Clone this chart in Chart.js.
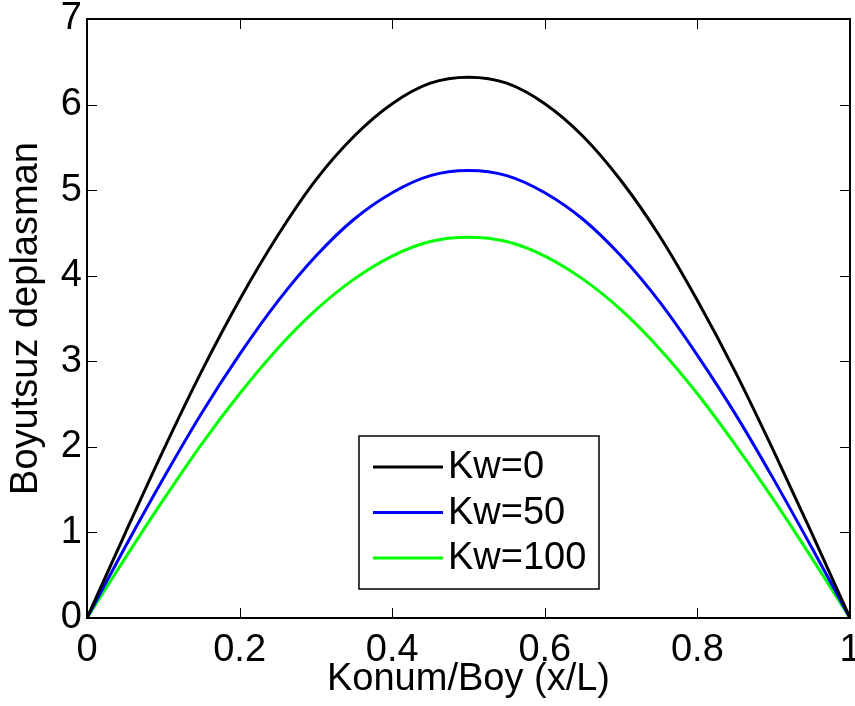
<!DOCTYPE html>
<html>
<head>
<meta charset="utf-8">
<script src="https://cdn.jsdelivr.net/npm/chart.js@4.4.1/dist/chart.umd.min.js"></script>
<style>
  body { margin: 0; background: #fff; }
  canvas { display: block; }
</style>
</head>
<body>
<canvas id="plot" width="855" height="706"></canvas>
<script>
const positions = [0, 0.05, 0.1, 0.15, 0.2, 0.25, 0.3, 0.35, 0.4, 0.45, 0.5,
                   0.55, 0.6, 0.65, 0.7, 0.75, 0.8, 0.85, 0.9, 0.95, 1];
const kw0   = [0, 0.99, 1.96, 2.88, 3.72, 4.47, 5.12, 5.63, 6.01, 6.25, 6.32,
               6.25, 6.01, 5.63, 5.11, 4.47, 3.71, 2.87, 1.95, 0.99, 0];
const kw50  = [0, 0.83, 1.63, 2.39, 3.08, 3.70, 4.23, 4.66, 4.97, 5.17, 5.23,
               5.17, 4.97, 4.66, 4.23, 3.70, 3.07, 2.38, 1.62, 0.82, 0];
const kw100 = [0, 0.70, 1.38, 2.03, 2.62, 3.15, 3.60, 3.96, 4.23, 4.40, 4.45,
               4.40, 4.23, 3.96, 3.60, 3.15, 2.62, 2.02, 1.38, 0.70, 0];
const seriesNames = ['Kw=0', 'Kw=50', 'Kw=100'];
const seriesColors = ['#000000', '#0000ff', '#00ff00'];
const xTicks = [0, 0.2, 0.4, 0.6, 0.8, 1];
const yTicks = [0, 1, 2, 3, 4, 5, 6, 7];

const FONT = "'Liberation Sans', Arial, sans-serif";
const FSIZE = 38;

function points(vals) {
    return positions.map((p, i) => ({ x: p, y: vals[i] }));
}

// box around the axes and inward tick marks (matlab style)
const axesBox = {
    id: 'axesBox',
    afterDatasetsDraw(chart) {
        const { ctx, chartArea: a, scales } = chart;
        const len = 10;
        ctx.save();
        ctx.strokeStyle = '#000';
        ctx.lineWidth = 1;
        ctx.beginPath();
        for (const t of xTicks) {
            const px = Math.round(scales.x.getPixelForValue(t)) + 0.5;
            ctx.moveTo(px, a.bottom); ctx.lineTo(px, a.bottom - len);
            ctx.moveTo(px, a.top); ctx.lineTo(px, a.top + len);
        }
        for (const t of yTicks) {
            const py = Math.round(scales.y.getPixelForValue(t)) + 0.5;
            ctx.moveTo(a.left, py); ctx.lineTo(a.left + len, py);
            ctx.moveTo(a.right, py); ctx.lineTo(a.right - len, py);
        }
        ctx.stroke();
        ctx.lineWidth = 2;
        ctx.strokeRect(a.left, a.top, a.right - a.left, a.bottom - a.top);
        ctx.restore();
    }
};

// legend box inside the plot
const boxLegend = {
    id: 'boxLegend',
    afterDraw(chart) {
        const ctx = chart.ctx;
        const left = 359, top = 436, w = 240, h = 153;
        ctx.save();
        ctx.fillStyle = '#fff';
        ctx.fillRect(left, top, w, h);
        ctx.strokeStyle = '#000';
        ctx.lineWidth = 1.5;
        ctx.strokeRect(left, top, w, h);
        ctx.font = FSIZE + 'px ' + FONT;
        ctx.textBaseline = 'middle';
        chart.data.datasets.forEach((ds, i) => {
            const cy = 467 + i * 45.5;
            ctx.strokeStyle = ds.borderColor;
            ctx.lineWidth = 3;
            ctx.beginPath();
            ctx.moveTo(373, cy); ctx.lineTo(443, cy);
            ctx.stroke();
            ctx.fillStyle = '#000';
            ctx.fillText(ds.label, 448, cy + 1);
        });
        ctx.restore();
    }
};

new Chart(document.getElementById('plot'), {
    type: 'line',
    data: {
        datasets: [kw0, kw50, kw100].map((vals, i) => ({
            label: seriesNames[i],
            data: points(vals),
            borderColor: seriesColors[i],
            borderWidth: 3,
            pointRadius: 0,
            cubicInterpolationMode: 'monotone',
            fill: false
        }))
    },
    options: {
        responsive: false,
        animation: false,
        layout: { padding: { top: 19, right: 5, left: 0, bottom: 0 } },
        plugins: {
            legend: { display: false },
            tooltip: { enabled: false }
        },
        scales: {
            x: {
                type: 'linear',
                min: 0, max: 1,
                afterBuildTicks: s => { s.ticks = xTicks.map(v => ({ value: v })); },
                afterFit: s => { s.height = 88; s.paddingLeft = 0; s.paddingRight = 0; },
                grid: { display: false, drawTicks: false },
                border: { display: false },
                ticks: {
                    padding: 10,
                    color: '#000',
                    maxRotation: 0,
                    font: { family: FONT, size: FSIZE },
                    callback: v => String(+v.toFixed(1))
                },
                title: {
                    display: true,
                    text: 'Konum/Boy (x/L)',
                    color: '#000',
                    font: { family: FONT, size: FSIZE },
                    padding: { top: 0, bottom: 4 }
                }
            },
            y: {
                min: 0, max: 7,
                afterBuildTicks: s => { s.ticks = yTicks.map(v => ({ value: v })); },
                afterFit: s => { s.width = 87; s.paddingTop = 0; s.paddingBottom = 0; },
                grid: { display: false, drawTicks: false },
                border: { display: false },
                ticks: {
                    padding: 5,
                    color: '#000',
                    font: { family: FONT, size: FSIZE }
                },
                title: {
                    display: true,
                    text: 'Boyutsuz deplasman',
                    color: '#000',
                    font: { family: FONT, size: FSIZE },
                    padding: { top: 4, bottom: 0 }
                }
            }
        }
    },
    plugins: [axesBox, boxLegend]
});
</script>
</body>
</html>
